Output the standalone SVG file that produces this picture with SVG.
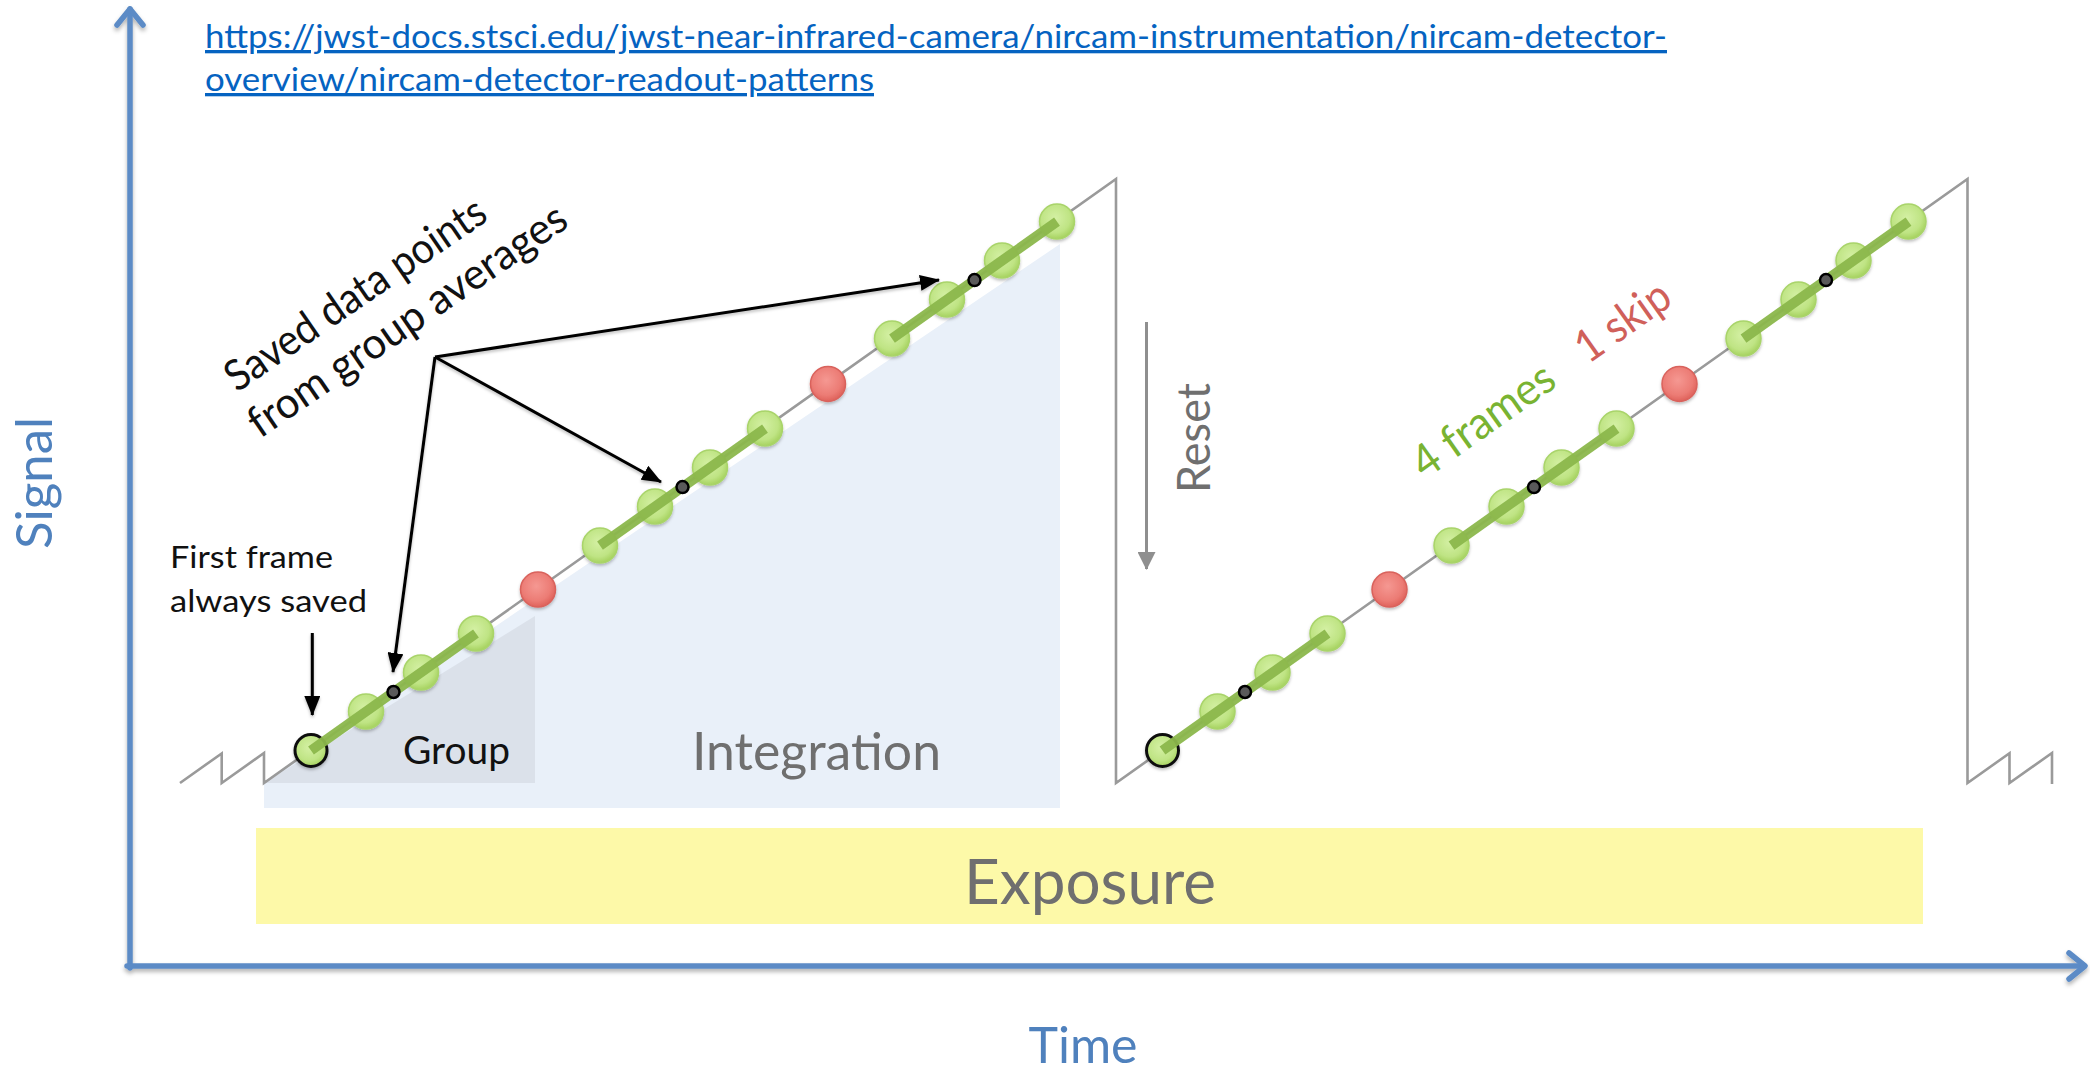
<svg xmlns="http://www.w3.org/2000/svg" width="2090" height="1075" viewBox="0 0 2090 1075">
  <style>
    text { font-family: Lato, "Open Sans", "Liberation Sans", sans-serif; }
    .axis { fill: none; stroke: #5b8bc6; stroke-width: 5.5; stroke-linecap: round; stroke-linejoin: round; }
    .axislabel { fill: #4f81bd; font-size: 50px; }
    .ramp { fill: none; stroke: #9a9a9a; stroke-width: 2.6; stroke-linejoin: miter; }
    .frame { fill: url(#gGreen); stroke: #a9d46a; stroke-width: 1.5; }
    .first { fill: url(#gGreen); stroke: #111; stroke-width: 3; }
    .skip { fill: url(#gRed); stroke: #d9625c; stroke-width: 1.5; }
    .bar { stroke: #8cb84c; stroke-width: 10; stroke-linecap: butt; opacity: 0.95; }
    .avg { fill: #5a5a5a; stroke: #000; stroke-width: 2.5; }
    .pointer { fill: none; stroke: #000; stroke-width: 3; }
    .note { fill: #111; }
    .gray { fill: #6f6f6f; }
    .url { fill: #0563c1; font-size: 33px; text-decoration: underline; }
  </style>
  <defs>
    <radialGradient id="gGreen" cx="0.45" cy="0.4" r="0.6">
      <stop offset="0" stop-color="#d4f0a4"/>
      <stop offset="0.7" stop-color="#bfe484"/>
      <stop offset="1" stop-color="#a6d25f"/>
    </radialGradient>
    <radialGradient id="gRed" cx="0.45" cy="0.4" r="0.6">
      <stop offset="0" stop-color="#f59892"/>
      <stop offset="0.7" stop-color="#ec7c75"/>
      <stop offset="1" stop-color="#df625b"/>
    </radialGradient>
    <filter id="shadow" x="-10%" y="-10%" width="120%" height="140%">
      <feDropShadow dx="0" dy="3" stdDeviation="2" flood-color="#000" flood-opacity="0.3"/>
    </filter>
    <filter id="soft" x="-30%" y="-30%" width="160%" height="170%">
      <feDropShadow dx="0" dy="2" stdDeviation="1.5" flood-color="#000" flood-opacity="0.25"/>
    </filter>
    <marker id="headBlack" viewBox="0 0 20 16" refX="19" refY="8" markerWidth="20" markerHeight="16" orient="auto" markerUnits="userSpaceOnUse">
      <path d="M0,0 L20,8 L0,16 Z" fill="#000"/>
    </marker>
    <marker id="headGray" viewBox="0 0 18 18" refX="17" refY="9" markerWidth="18" markerHeight="18" orient="auto" markerUnits="userSpaceOnUse">
      <path d="M0,0 L18,9 L0,18 Z" fill="#8f8f8f"/>
    </marker>
  </defs>

  <rect width="2090" height="1075" fill="#fff"/>

  <!-- reference link -->
  <g id="link">
    <text class="url" x="205" y="48" textLength="1462" lengthAdjust="spacingAndGlyphs">https://jwst-docs.stsci.edu/jwst-near-infrared-camera/nircam-instrumentation/nircam-detector-</text>
    <text class="url" x="205" y="91" textLength="669" lengthAdjust="spacingAndGlyphs">overview/nircam-detector-readout-patterns</text>
  </g>

  <!-- shaded spans -->
  <g id="exposure">
    <rect x="256" y="828" width="1667" height="96" fill="#fdf9a8"/>
    <text class="gray" x="1090" y="904" font-size="62" text-anchor="middle" textLength="252" lengthAdjust="spacingAndGlyphs">Exposure</text>
  </g>
  <g id="integration">
    <polygon points="264,783 1060,244 1060,808 264,808" fill="#e9f0f9"/>
    <text class="gray" x="692" y="770" font-size="52" textLength="249" lengthAdjust="spacingAndGlyphs">Integration</text>
  </g>
  <g id="group">
    <polygon points="264,783 535,616 535,783" fill="#dbe1ea"/>
    <text class="note" x="403" y="764" font-size="38" textLength="107" lengthAdjust="spacingAndGlyphs">Group</text>
  </g>

  <!-- axes -->
  <g id="axes" filter="url(#shadow)">
    <line class="axis" x1="130" y1="968" x2="130" y2="9"/>
    <polyline class="axis" points="117,25 130,9 143,25"/>
    <line class="axis" x1="127" y1="966" x2="2084" y2="966"/>
    <polyline class="axis" points="2069,953 2085,966 2069,979"/>
  </g>
  <text id="signal" class="axislabel" transform="translate(52,483) rotate(-90)" text-anchor="middle" textLength="132" lengthAdjust="spacingAndGlyphs">Signal</text>
  <text id="time" class="axislabel" x="1083" y="1063" text-anchor="middle" textLength="109" lengthAdjust="spacingAndGlyphs">Time</text>

  <!-- detector signal ramps with resets -->
  <g id="signal-trace">
    <polyline class="ramp" points="180,783 221.7,753.4 221.7,783 264,753 264,783 1116,179 1116,783 1967.5,179 1967.5,783 2009.5,753.2 2009.5,783 2052,753 2052,784"/>
  </g>

  <!-- reset arrow -->
  <g id="reset">
    <line x1="1146.5" y1="322" x2="1146.5" y2="569" stroke="#8f8f8f" stroke-width="3" marker-end="url(#headGray)"/>
    <text class="gray" transform="translate(1210,438) rotate(-90)" font-size="47" text-anchor="middle" textLength="110" lengthAdjust="spacingAndGlyphs">Reset</text>
  </g>

  <!-- ramp 1 frames -->
  <g id="ramp1">
    <g filter="url(#soft)">
      <circle class="first" cx="311" cy="750.5" r="16"/>
      <circle class="frame" cx="366" cy="711.5" r="17.5"/>
      <circle class="frame" cx="421" cy="672.5" r="17.5"/>
      <circle class="frame" cx="476" cy="633.5" r="17.5"/>
      <circle class="skip" cx="538" cy="589.6" r="17.5"/>
      <circle class="frame" cx="600" cy="545.6" r="17.5"/>
      <circle class="frame" cx="655" cy="506.6" r="17.5"/>
      <circle class="frame" cx="710" cy="467.6" r="17.5"/>
      <circle class="frame" cx="765" cy="428.6" r="17.5"/>
      <circle class="skip" cx="828" cy="383.9" r="17.5"/>
      <circle class="frame" cx="892" cy="338.6" r="17.5"/>
      <circle class="frame" cx="947" cy="299.6" r="17.5"/>
      <circle class="frame" cx="1002" cy="260.6" r="17.5"/>
      <circle class="frame" cx="1057" cy="221.6" r="17.5"/>
    </g>
    <line class="bar" x1="311" y1="750.5" x2="476" y2="633.5"/>
    <line class="bar" x1="600" y1="545.6" x2="765" y2="428.6"/>
    <line class="bar" x1="892" y1="338.6" x2="1057" y2="221.6"/>
    <circle class="avg" cx="393.5" cy="692" r="6"/>
    <circle class="avg" cx="682.5" cy="487.1" r="6"/>
    <circle class="avg" cx="974.5" cy="280.1" r="6"/>
  </g>

  <!-- ramp 2 frames -->
  <g id="ramp2">
    <g filter="url(#soft)">
      <circle class="first" cx="1162.5" cy="750.5" r="16"/>
      <circle class="frame" cx="1217.5" cy="711.5" r="17.5"/>
      <circle class="frame" cx="1272.5" cy="672.5" r="17.5"/>
      <circle class="frame" cx="1327.5" cy="633.5" r="17.5"/>
      <circle class="skip" cx="1389.5" cy="589.6" r="17.5"/>
      <circle class="frame" cx="1451.5" cy="545.6" r="17.5"/>
      <circle class="frame" cx="1506.5" cy="506.6" r="17.5"/>
      <circle class="frame" cx="1561.5" cy="467.6" r="17.5"/>
      <circle class="frame" cx="1616.5" cy="428.6" r="17.5"/>
      <circle class="skip" cx="1679.5" cy="383.9" r="17.5"/>
      <circle class="frame" cx="1743.5" cy="338.6" r="17.5"/>
      <circle class="frame" cx="1798.5" cy="299.6" r="17.5"/>
      <circle class="frame" cx="1853.5" cy="260.6" r="17.5"/>
      <circle class="frame" cx="1908.5" cy="221.6" r="17.5"/>
    </g>
    <line class="bar" x1="1162.5" y1="750.5" x2="1327.5" y2="633.5"/>
    <line class="bar" x1="1451.5" y1="545.6" x2="1616.5" y2="428.6"/>
    <line class="bar" x1="1743.5" y1="338.6" x2="1908.5" y2="221.6"/>
    <circle class="avg" cx="1245" cy="692" r="6"/>
    <circle class="avg" cx="1534" cy="487.1" r="6"/>
    <circle class="avg" cx="1826" cy="280.1" r="6"/>
  </g>

  <!-- frame / skip legend -->
  <g id="legend" transform="translate(1425,480) rotate(-35.3)">
    <text x="0" y="0" font-size="45" fill="#79b332" textLength="164" lengthAdjust="spacingAndGlyphs">4 frames</text>
    <text x="200" y="0" font-size="45" fill="#d0605a" textLength="106" lengthAdjust="spacingAndGlyphs">1 skip</text>
  </g>

  <!-- annotations -->
  <g id="saved-label" class="note" transform="translate(237,393) rotate(-34.5)">
    <text x="0" y="0" font-size="43" textLength="307" lengthAdjust="spacingAndGlyphs">Saved data points</text>
    <text x="-7" y="51" font-size="43" textLength="377" lengthAdjust="spacingAndGlyphs">from group averages</text>
  </g>
  <g id="first-label" class="note">
    <text x="170" y="568" font-size="31" textLength="163" lengthAdjust="spacingAndGlyphs">First frame</text>
    <text x="170" y="612" font-size="31" textLength="197" lengthAdjust="spacingAndGlyphs">always saved</text>
  </g>

  <!-- pointer arrows -->
  <g id="connectors" filter="url(#soft)">
    <line class="pointer" x1="435" y1="357" x2="939" y2="280" marker-end="url(#headBlack)"/>
    <line class="pointer" x1="435" y1="357" x2="661" y2="482" marker-end="url(#headBlack)"/>
    <line class="pointer" x1="435" y1="357" x2="393" y2="672" marker-end="url(#headBlack)"/>
    <line class="pointer" x1="312.3" y1="633" x2="312.3" y2="715" marker-end="url(#headBlack)"/>
  </g>
</svg>
